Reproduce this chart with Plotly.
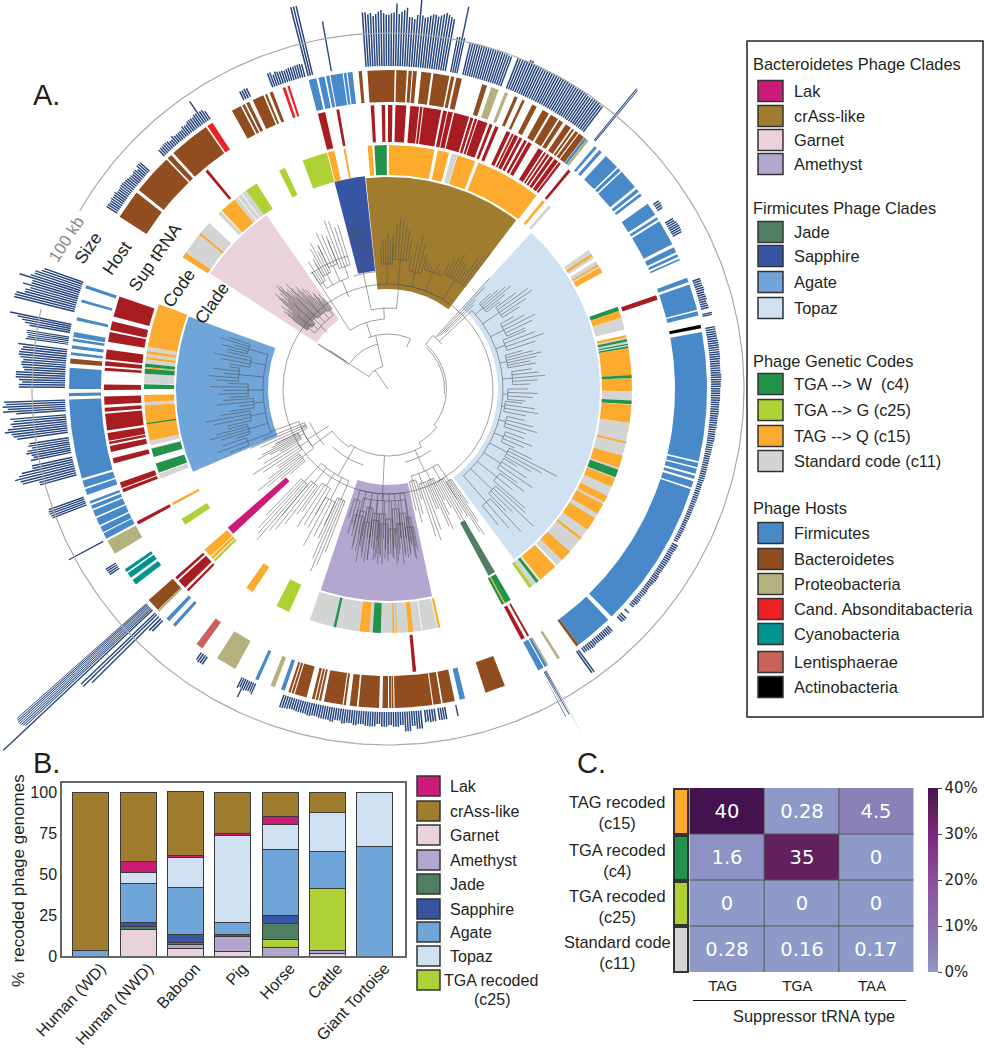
import numpy as np
import plotly.graph_objects as go

# circular panel: spans are in degrees clockwise from north, radii in figure units
cx, cy = 388, 389
size_base, kb_scale = 323, 0.33

clade_names = ["Topaz", "crAss-like", "Sapphire", "Garnet", "Agate", "Lak", "Amethyst", "Jade"]
clade_start = [42.5, -6, -14.5, -57, -113, -133.1, 168, 149.7]
clade_end = [143.5, 37.2, -6.2, -35, -70, -130.9, 198.5, 151.7]
clade_inner = [110, 100, 119, 85, 120, 135, 96, 152]
clade_outer = [212, 212, 214, 212, 212, 212, 212, 212]
clade_colors = ["#d0e2f1", "#a07d2e", "#3855a5", "#ead2dc", "#6fa5d8", "#cb1a78", "#b3a7d0", "#4f7f62"]

code_gray = [[15.2, 16.5], [41.2, 41.9], [55.3, 57.6], [58.4, 60], [71.8, 72.2], [73, 75.9], [77.8, 78.2],
             [78.8, 79.9], [83, 83.3], [85.3, 85.6], [90.5, 92.7], [98, 136.2], [141.6, 143.8], [168.4, 171.9],
             [172.1, 198.7], [248.5, 249.7], [254.2, 256], [256.6, 257.7], [266.1, 266.9], [271.3, 273.6],
             [276, 277], [277.6, 278.3], [279, 280], [304, 312.9], [315.9, 316.8], [321, 321.9], [322.1, 323.1],
             [323.3, 324.5]]
code_orange = [[0.2, 11], [11.8, 14.5], [16.6, 21], [21.8, 37.5], [39.3, 40], [56.4, 57], [59.3, 59.7],
               [60.1, 61.5], [71.3, 73], [77.2, 77.8], [80.3, 86.7], [87.4, 90.5], [93.7, 98], [102.4, 102.9],
               [105.9, 108.8], [111.5, 113.6], [116, 117.6], [118.2, 120.8], [122, 125.2], [127.5, 128.1],
               [131.8, 134.5], [136.7, 141.4], [151.3, 151.6], [167.6, 168.2], [174.1, 175.2], [177.9, 178.1],
               [178.5, 178.9], [184.4, 186.7], [213.7, 215.5], [225.8, 226.5], [226.7, 228.8], [241.6, 242.2],
               [257.7, 266.1], [266.9, 268.6], [274.9, 275.2], [277, 277.6], [278.3, 279], [280, 290.3],
               [302.7, 304], [309.3, 309.8], [317, 321], [345.7, 347.3], [349.5, 350], [355.2, 356.3]]
code_green = [[-3.2, -0.3], [70.3, 71.3], [78.2, 78.8], [79.3, 79.6], [79.9, 80.3], [86.7, 87.4], [92.7, 93.6],
              [109.3, 111.2], [141.9, 142.6], [149.8, 151.3], [151.6, 152.2], [181.7, 183.6], [192.3, 192.9],
              [249.9, 252.2], [253.8, 255.8], [261.7, 262], [270, 271.1], [273.6, 274.8], [275.2, 276]]
code_lime = [[143.8, 144.6], [203.9, 207.2], [225, 225.6], [236.2, 237.8], [324.5, 327.4], [333.5, 335], [339.5, 345.5]]

sup_trna = [[-3.5, -2.8], [-1.3, -0.6], [0, 0.9], [1.5, 3.7], [4.5, 6.3], [6.5, 7], [7.2, 10.8], [11.2, 12],
            [12.2, 13.2], [13.5, 16.6], [16.9, 17.5], [17.8, 18.3], [18.5, 20.5], [21, 21.6], [22.2, 22.9],
            [24.7, 25.5], [25.9, 26.3], [26.5, 27.3], [27.6, 28.2], [28.7, 29.3], [29.6, 30.4], [32, 33.1],
            [33.4, 33.8], [34.1, 34.6], [34.9, 35.6], [35.9, 36.8], [37, 37.5], [39.4, 40], [70.7, 71.7],
            [150.2, 150.6], [151.2, 152], [174.3, 175], [224.6, 225.1], [225.6, 227.5], [227.9, 228.5],
            [241.5, 242.2], [248.7, 249.4], [249.6, 250.8], [254.8, 255.9], [257.2, 258.4], [258.8, 259.3],
            [259.5, 261.1], [261.6, 265], [265.4, 266.2], [266.8, 268.5], [269.8, 270.9], [273.7, 274.3],
            [274.7, 275.6], [276, 278], [279.6, 281.6], [282, 283.8], [284.8, 289], [320, 320.6], [345.7, 347.2],
            [349.5, 350.1]]

host_firmicutes = [[38, 38.5], [40.4, 40.9], [41.5, 42.1], [43.1, 45.9], [46.2, 46.8], [47.1, 50.7], [51.2, 51.8],
                   [52.2, 52.7], [54.5, 56.9], [57.4, 57.9], [58.3, 63], [63.6, 64.6], [65, 65.5], [65.9, 66.2],
                   [69.6, 70.4], [70.9, 75.6], [75.9, 76.7], [79.7, 103.1], [103.4, 104.2], [104.5, 105.4],
                   [105.8, 106.4], [106.8, 108], [108.3, 135.5], [136.3, 143.3], [150.1, 150.6], [150.8, 151.9],
                   [166, 167], [198.9, 199.6], [204, 204.6], [221.8, 222.4], [223.3, 224], [242, 243.1],
                   [243.3, 244.4], [244.7, 246.1], [246.4, 247.6], [247.9, 248.6], [248.9, 249.4], [250.6, 251.7],
                   [252, 253.3], [253.7, 268.1], [268.7, 269.3], [270, 273.8], [276.1, 276.6], [277.3, 277.9],
                   [278.6, 279.1], [279.4, 280.3], [282.4, 283], [285.8, 286.3], [288.4, 289], [345.6, 347],
                   [347.4, 348.5], [348.8, 349.4], [349.6, 351.8], [352, 352.5], [352.7, 353.6]]
host_bacteroidetes = [[-5.3, -4.7], [-3.7, 1.2], [1.5, 3.4], [3.7, 4.3], [4.5, 5.2], [6, 7.8], [8.2, 11.1],
                      [11.4, 12], [12.4, 13.4], [17.2, 18.1], [23.4, 24], [24.9, 25.4], [26.9, 27.8], [29, 30.3],
                      [30.7, 32.2], [32.5, 33.3], [33.9, 35], [35.3, 35.7], [36, 36.6], [36.8, 37.9], [143.3, 143.8],
                      [158.5, 162.2], [167.9, 170.1], [170.4, 171.8], [172, 178.8], [179, 179.3], [179.4, 179.8],
                      [180, 181], [181.6, 183.9], [183.9, 185.3], [185.6, 186.9], [187.6, 188], [188.2, 191.6],
                      [192.1, 192.5], [192.7, 193.1], [193.3, 193.8], [194.8, 197], [197.2, 197.6], [197.8, 198.2],
                      [226.2, 228.6], [274.6, 275.5], [302.7, 308], [308.6, 316], [316.3, 317.2], [317.7, 325.2],
                      [330.7, 332.5], [332.8, 333.3], [333.6, 334.2], [334.9, 337], [337.3, 337.7], [338.2, 338.8]]
host_proteobacteria = [[18.9, 20.3], [21.5, 22.1], [38.5, 39], [147.4, 147.9], [149.8, 150.1], [200.8, 201.6],
                       [208.6, 212.4], [225.8, 226.2], [238.9, 241.6]]
host_absconditabacteria = [[325.5, 326.6], [340.7, 341.2], [341.6, 342]]
host_cyanobacteria = [[232.2, 233.2], [233.7, 234.7], [235, 235.6]]
host_lentisphaerae = [[215.6, 216.9]]
host_actinobacteria = [[78.4, 79]]

# genome size blocks, each list of kb runs clockwise across its span
size_start = [-4.1, 11, 13.2, 21.3, 39.5, 55, 58.9, 70.3, 76.5, 79, 118.3, 132.6, 133.7, 137, 143.7, 150.4,
              167.7, 169.7, 171.6, 174, 204, 213.8, 224, 225.1, 225.6, 226, 226.7, 227, 236.1, 241.6, 248.8,
              254.4, 258.5, 262.1, 266, 270.1, 277.8, 279.9, 283.7, 302.8, 316, 333.3, 338.9, 345.5, 349.7]
size_end = [10.4, 12.5, 20.6, 37.4, 40, 56.7, 62, 75.9, 77.2, 118, 131.8, 133.2, 135, 143.4, 144.5, 151.6,
            168.1, 171.3, 173.7, 199, 207, 215.5, 224.9, 225.3, 225.8, 226.2, 226.9, 228.5, 237.6, 242.1, 250.6,
            258, 261.5, 265.6, 268.2, 277.2, 279.4, 281.7, 289.5, 312.6, 326.8, 335, 345.3, 346.7, 350.1]
size_kb = [
    [165, 158, 162, 152, 158, 165, 170, 160, 155, 160, 162, 190, 158, 165, 170, 178, 150, 145, 158, 225, 158, 152,
     155, 160, 165, 160, 165, 170, 175, 170, 165, 160],
    [108, 110, 205, 110],
    [100, 99, 100, 98, 100, 100, 97, 96],
    [98, 100, 108, 100, 100, 98, 100, 98, 100, 100, 100, 100, 98, 100, 98, 96, 98, 100, 96],
    [203, 200],
    [20, 22, 20, 18],
    [28, 32, 34, 32, 30],
    [25, 24, 26, 23, 25, 22, 24],
    [30, 28],
    [30, 30, 32, 32, 32, 30, 30, 32, 30, 28, 28, 26, 26, 24, 24, 22, 22, 20, 20, 18, 18, 18, 18, 16, 16, 16, 15, 15,
     15, 14, 15, 14, 13],
    [20, 18, 20, 19, 18, 17, 20, 18, 16, 18, 17, 19, 16],
    [18],
    [24, 22],
    [22, 20, 21, 19, 22, 20, 18],
    [82, 80],
    [235, 230, 150, 150, 150, 150],
    [34],
    [37, 38, 36],
    [38, 39, 36, 38],
    [55, 45, 60, 40, 45, 40, 45, 37, 45, 44, 40, 45, 40, 44, 37, 44, 40, 40, 37, 40, 37, 37, 35, 38, 40],
    [35, 30, 30, 32, 35, 60, 30, 35],
    [28, 30, 26],
    [45, 50],
    [285],
    [312],
    [312],
    [620],
    [520, 525, 530, 530, 530, 527, 525],
    [35, 36],
    [118],
    [110, 112, 115, 115, 112],
    [115, 165, 170, 185, 170, 160, 125, 125],
    [125, 115, 120, 135, 130, 115, 125, 120],
    [155, 165, 170, 190, 180, 165, 170, 160, 170],
    [150, 190, 175, 190, 180, 185],
    [140, 130, 140, 150, 150, 125, 130, 135, 130, 140, 145, 140, 135, 150],
    [130, 125, 125, 130, 130],
    [125, 140, 150, 165, 190],
    [188, 185, 161, 148, 173, 148, 191, 158, 148, 130, 124],
    [38, 36, 40, 38, 42, 36, 38, 40, 38, 36, 34, 32, 36, 30, 40, 38],
    [25, 25, 28, 27, 22, 30, 25, 25, 25, 33, 30, 35, 36, 35, 40, 80, 38, 30],
    [28, 30, 28],
    [45, 35, 42, 40, 38, 36, 38, 40, 40, 42, 42, 42, 40],
    [215, 215, 215],
    [153],
]

# phylogeny: arcs (r, from, to), spokes (angle, r from, r to)
tree_arcs = [(23, 301, 347), (46, 304, 347), (55, 339, 384), (81, 348, 366), (70, 327, 357), (58.5, 40, 128),
             (56.5, 43, 95), (62, 128, 150), (67, 150, 214), (70, 214, 233), (95, 233, 250), (70, 40, 50),
             (75, 145, 167), (80, 198, 224), (85, 229, 247), (118, 343, 354), (139, 326, 343)]
tree_spokes = [(325, 0, 23), (303, 23, 46), (347, 23, 46), (347, 46, 55), (342, 55, 70), (357, 70, 81),
               (348, 81, 118), (327, 70, 139), (24, 46, 55), (40, 58.5, 70), (128, 58.5, 62),
               (150, 62, 67), (214, 67, 70), (233, 70, 95), (156, 67, 75), (210, 67, 80), (238, 70, 85),
               (302.5, 46, 83), (303, 46, 83), (303.5, 50, 70), (42.5, 70, 150), (43.5, 72, 140), (44.5, 75, 125),
               (45.5, 80, 120)]
# each group: spine radius, root radius, root angle, fans of (from, to, base radius, tip radii)
tree_groups = [
    (125, 95, 250, [(284, 288, 145, [165, 172, 160, 176, 168]), (279, 283, 140, [160, 170, 178, 165]),
                    (273, 278, 150, [172, 180, 165, 175, 160]), (267, 272, 140, [158, 170, 165, 178, 160]),
                    (262, 266, 135, [160, 150, 172, 165]), (257, 261, 140, [165, 178, 185, 170]),
                    (252, 256, 145, [160, 175, 185, 178, 165]), (248, 251, 150, [170, 182, 175])]),
    (92, 83, 313, [(306, 309, 100, [118, 124, 130, 126, 120, 135, 128, 122, 116]),
                   (309, 312, 98, [128, 136, 142, 148, 140, 132, 138, 145, 128]),
                   (312, 315, 102, [135, 148, 152, 145, 150, 140, 134, 142, 130]),
                   (315, 318, 100, [128, 138, 146, 140, 132, 126, 134, 120]),
                   (318, 322, 100, [138, 130, 124, 132, 122, 128, 118, 112, 120]),
                   (322, 325, 98, [122, 116, 110, 118, 112, 108])]),
    (118, 100, 337, [(327, 330, 125, [140, 150, 138, 145]), (330, 334, 130, [150, 160, 165, 155, 160]),
                     (334, 338, 135, [160, 172, 168, 160]), (338, 343, 130, [165, 180, 178, 170, 172])]),
    (105, 81, 6, [(357, 362, 125, [140, 150, 148, 155, 150, 145]), (362, 369, 130, [155, 165, 172, 170, 165, 160, 150]),
                  (370, 376, 120, [135, 150, 158, 150, 140]), (377, 385, 125, [135, 132, 130, 128, 135, 130, 128]),
                  (386, 397, 128, [140, 145, 150, 155, 150, 148, 145, 160, 165, 170])]),
    (130, 118, 348, [(347, 350, 145, [170, 180, 175, 165]), (350, 353, 140, [160, 170, 158])]),
    (115, 70, 47, [(47, 52, 125, [140, 148, 155, 160, 150, 142]), (53, 58, 135, [160, 172, 175, 165, 155]),
                   (60, 66, 130, [145, 155, 165, 160, 150]), (67, 72, 125, [150, 158, 165, 155]),
                   (74, 80, 122, [140, 150, 158, 152, 145, 150]), (82, 88, 125, [145, 152, 158, 150, 142]),
                   (90, 95, 120, [140, 150, 145, 138]), (96, 101, 118, [135, 148, 152, 140]),
                   (103, 108, 122, [140, 150, 155, 145]), (110, 115, 125, [145, 155, 148, 140]),
                   (116, 120, 135, [160, 190, 175, 165]), (121, 126, 135, [150, 165, 175, 160]),
                   (127, 131, 140, [170, 160, 182]), (132, 136, 145, [185, 200, 175, 170]),
                   (137, 141, 150, [195, 185, 175])]),
    (105, 67, 183, [(170, 172, 130, [160, 170, 155, 165]), (172, 175, 125, [155, 170, 165, 150]),
                    (175, 178, 120, [150, 165, 175, 160]), (178, 181, 130, [170, 165, 155, 170]),
                    (181, 184, 125, [160, 175, 165, 150]), (184, 187, 125, [165, 172, 160, 155]),
                    (187, 190, 120, [155, 175, 170, 160]), (190, 194, 125, [150, 165, 160, 145]),
                    (194, 197, 115, [140, 150, 135])]),
    (112, 105, 183, [(169.5, 173, 140, [165, 172, 158, 168, 150]), (173, 176.5, 135, [150, 168, 176, 160, 145]),
                     (176.5, 180, 140, [172, 158, 168, 150, 165]), (180, 183.5, 135, [172, 160, 150, 168, 175]),
                     (183.5, 187, 132, [158, 170, 162, 148, 172]), (187, 190.5, 135, [172, 150, 165, 176]),
                     (190.5, 195, 130, [158, 148, 164, 152, 140])]),
    (100, 80, 210, [(201, 205, 120, [175, 190, 198, 185, 165]), (205, 210, 125, [150, 165, 178, 160]),
                    (210, 215, 115, [145, 160, 165, 150]), (216, 220, 120, [155, 170, 180, 165]),
                    (220, 224, 125, [185, 200, 195, 190, 175])]),
    (95, 85, 238, [(229, 234, 110, [130, 140, 155, 165, 150, 135]), (235, 239, 105, [135, 150, 160, 145]),
                   (240, 244, 100, [125, 135, 148, 142, 130, 125]), (244, 248, 90, [125, 140, 150, 135])]),
    (90, 75, 156, [(145, 148, 110, [140, 160, 175, 170, 150]), (148, 152, 105, [130, 145, 158, 150, 135]),
                   (153, 157, 100, [125, 140, 155, 150, 130]), (158, 162, 100, [130, 150, 160, 155]),
                   (163, 167, 95, [115, 130, 138, 125])]),
]

# panel B
hosts = ["Human (WD)", "Human (NWD)", "Baboon", "Pig", "Horse", "Cattle", "Giant Tortoise"]
pct_garnet = [0, 16, 4.5, 2.5, 0, 1.5, 0]
pct_amethyst = [0, 0, 2.5, 9.5, 5, 2, 0]
pct_c25 = [0, 0, 0, 0, 5, 37.5, 0]
pct_jade = [0, 2, 1.5, 0, 10, 0, 0]
pct_sapphire = [0, 2.5, 4.5, 1, 5, 0, 0]
pct_agate = [3.5, 23.5, 29, 7.5, 40, 23, 67]
pct_topaz = [0, 7, 18, 53, 15, 23.5, 33]
pct_lak = [0, 6.5, 1.5, 1.5, 5, 0, 0]
pct_crass = [96.5, 42.5, 39, 25, 15, 12.5, 0]

# panel C
suppressor_types = ["TAG", "TGA", "TAA"]
recoded_rows = ["TAG recoded<br>(c15)", "TGA recoded<br>(c4)", "TGA recoded<br>(c25)", "Standard code<br>(c11)"]
suppressor_pct = [[40, 0.28, 4.5], [1.6, 35, 0], [0, 0, 0], [0.28, 0.16, 0.17]]
suppressor_text = [["40", "0.28", "4.5"], ["1.6", "35", "0"], ["0", "0", "0"], ["0.28", "0.16", "0.17"]]

GREEN, LIME, ORANGE, GRAY = "#23924a", "#aed136", "#fdab2e", "#d3d4d4"
BLUE, BROWN, KHAKI, RED = "#4789c9", "#914d20", "#b5b17f", "#ee2224"
TEAL, SALMON, SUP_RED, SIZE_BLUE = "#00938f", "#c9625a", "#a81d21", "#27467c"
SANS = "Liberation Sans"
TEXT = "#231f20"


def to_xy(theta, r):
    a = np.radians(theta)
    return cx + r * np.sin(a), cy - r * np.cos(a)


def sector(t0, t1, r0, r1):
    t = np.linspace(t0, t1, max(2, int(abs(t1 - t0)) + 2))
    x1, y1 = to_xy(t, r1)
    x0, y0 = to_xy(t[::-1], r0)
    return list(x1) + list(x0) + [x1[0], None], list(y1) + list(y0) + [y1[0], None]


def add_sectors(fig, spans, r0, r1, color):
    xs, ys = [], []
    for t0, t1 in spans:
        x, y = sector(t0, t1, r0, r1)
        xs += x
        ys += y
    fig.add_trace(go.Scatter(x=xs, y=ys, mode="lines", fill="toself", fillcolor=color, line=dict(width=0),
                             hoverinfo="skip", showlegend=False))


def arc_xy(r, t0, t1):
    t = np.linspace(t0, t1, max(2, int(abs(t1 - t0)) + 2))
    x, y = to_xy(t, r)
    return list(x) + [None], list(y) + [None]


def spoke_xy(t, r0, r1):
    x, y = to_xy(np.array([t, t]), np.array([r0, r1]))
    return list(x) + [None], list(y) + [None]


def size_bar(t, r0, r1, half):
    # bars keep one width along their length, they do not fan out
    x0, y0 = to_xy(t, r0)
    x1, y1 = to_xy(t, r1)
    a = np.radians(t)
    ox, oy = half * np.cos(a), half * np.sin(a)
    return ([x0 - ox, x1 - ox, x1 + ox, x0 + ox, x0 - ox, None],
            [y0 - oy, y1 - oy, y1 + oy, y0 + oy, y0 - oy, None])


fig = go.Figure()

# clade wedges
for i in range(len(clade_names)):
    add_sectors(fig, [[clade_start[i], clade_end[i]]], clade_inner[i], clade_outer[i], clade_colors[i])

# tree
tx, ty = [], []
for r, t0, t1 in tree_arcs:
    x, y = arc_xy(r, t0, t1)
    tx += x
    ty += y
for t, r0, r1 in tree_spokes:
    x, y = spoke_xy(t, r0, r1)
    tx += x
    ty += y
for spine, root, root_angle, fans in tree_groups:
    mids = [(f[0] + f[1]) / 2 for f in fans]
    x, y = arc_xy(spine, min(mids + [root_angle]), max(mids + [root_angle]))
    tx += x
    ty += y
    x, y = spoke_xy(root_angle, root, spine)
    tx += x
    ty += y
    for (t0, t1, base, tips), mid in zip(fans, mids):
        x, y = spoke_xy(mid, spine, base)
        tx += x
        ty += y
        x, y = arc_xy(base, t0, t1)
        tx += x
        ty += y
        for angle, tip in zip(np.linspace(t0, t1, len(tips)), tips):
            x, y = spoke_xy(angle, base, tip)
            tx += x
            ty += y
fig.add_trace(go.Scatter(x=tx, y=ty, mode="lines", line=dict(color="#505050", width=0.55), hoverinfo="skip",
                         showlegend=False))

# rings
add_sectors(fig, code_gray, 214, 244, GRAY)
add_sectors(fig, code_orange, 214, 244, ORANGE)
add_sectors(fig, code_green, 214, 244, GREEN)
add_sectors(fig, code_lime, 214, 244, LIME)
add_sectors(fig, sup_trna, 247, 284, SUP_RED)
add_sectors(fig, host_firmicutes, 287, 319, BLUE)
add_sectors(fig, host_bacteroidetes, 287, 319, BROWN)
add_sectors(fig, host_proteobacteria, 287, 319, KHAKI)
add_sectors(fig, host_absconditabacteria, 287, 319, RED)
add_sectors(fig, host_cyanobacteria, 287, 319, TEAL)
add_sectors(fig, host_lentisphaerae, 287, 319, SALMON)
add_sectors(fig, host_actinobacteria, 287, 319, "#000000")

# size bars
sx, sy = [], []
for start, end, kb in zip(size_start, size_end, size_kb):
    n = max(len(kb), int(round((end - start) / 0.4)))
    step = (end - start) / n
    half = min(0.8, 0.33 * np.radians(step) * size_base)
    if n == 1:
        half = 0.7
    for i in range(n):
        t = start + (i + 0.5) * step
        x, y = size_bar(t, size_base, size_base + kb[int(i * len(kb) / n)] * kb_scale, half)
        sx += x
        sy += y
fig.add_trace(go.Scatter(x=sx, y=sy, mode="lines", fill="toself", fillcolor=SIZE_BLUE, line=dict(width=0),
                         hoverinfo="skip", showlegend=False))

# 100 kb circle, open behind its label
ct = np.arange(300, 644)
gx, gy = to_xy(ct, size_base + 100 * kb_scale)
fig.add_trace(go.Scatter(x=gx, y=gy, mode="lines", line=dict(color="#a9a9a9", width=1.2), hoverinfo="skip",
                         showlegend=False))

# panel B bars
stack = [("Garnet", pct_garnet, "#ead2dc"), ("Amethyst", pct_amethyst, "#b3a7d0"), ("c25", pct_c25, LIME),
         ("Jade", pct_jade, "#4f7f62"), ("Sapphire", pct_sapphire, "#3855a5"), ("Agate", pct_agate, "#6fa5d8"),
         ("Topaz", pct_topaz, "#d0e2f1"), ("Lak", pct_lak, "#cb1a78"), ("crAss-like", pct_crass, "#a07d2e")]
for name, values, color in stack:
    fig.add_trace(go.Bar(x=hosts, y=values, name=name, marker=dict(color=color, line=dict(color="#3a3a3a", width=1)),
                         width=0.76, xaxis="x2", yaxis="y2", showlegend=False, hoverinfo="skip"))

# panel C heatmap
fig.add_trace(go.Heatmap(
    z=suppressor_pct, x=suppressor_types, y=[0, 1, 2, 3], text=suppressor_text, texttemplate="%{text}",
    textfont=dict(family="DejaVu Sans", size=19.5, color="white"), xaxis="x3", yaxis="y3", zmin=0, zmax=40,
    colorscale=[[0, "#8e9bc9"], [0.11, "#8b80b8"], [0.5, "#8d4fa0"], [0.75, "#7f2583"], [0.875, "#63205f"],
                [1, "#44124e"]],
    hoverinfo="skip",
    colorbar=dict(x=928 / 984, xanchor="left", thickness=10, thicknessmode="pixels", len=184 / 1050,
                  lenmode="fraction", y=1 - 880 / 1050, yanchor="middle", ypad=0, xpad=0, outlinewidth=0,
                  tick0=0, dtick=10, ticksuffix="%", ticks="outside", ticklen=4, tickcolor="#444",
                  tickfont=dict(family="DejaVu Sans", size=15, color=TEXT))))

shapes, notes = [], []


def note(x, y, text, size=16.4, color=TEXT, anchor="left", angle=0, family=SANS):
    notes.append(dict(x=x, y=y, xref="x", yref="y", text=text, showarrow=False, xanchor=anchor, yanchor="middle",
                      textangle=angle, align="center", font=dict(family=family, size=size, color=color)))


def swatch(x0, x1, y0, y1, color, edge="#333333", width=1.5):
    shapes.append(dict(type="rect", xref="x", yref="y", x0=x0, x1=x1, y0=y0, y1=y1, fillcolor=color,
                       line=dict(color=edge, width=width)))


# ring labels
note(66, 239, "100 kb", 16.7, "#8a8a8a", "center", -57)
note(88, 248, "Size", 17.5, TEXT, "center", -55)
note(117, 258, "Host", 17.5, TEXT, "center", -55)
note(155, 257, "Sup tRNA", 17.5, TEXT, "center", -55)
note(179, 288, "Code", 17.5, TEXT, "center", -55)
note(212, 303, "Clade", 17.5, TEXT, "center", -55)
note(31, 95, "A.", 29)
note(31, 763, "B.", 29)
note(575, 763, "C.", 29)
note(18, 881, "%  recoded phage genomes", 17, TEXT, "center", -90)

# side legend
shapes.append(dict(type="rect", xref="x", yref="y", x0=747, x1=983, y0=41, y1=717, line=dict(color="#222", width=1.5)))
legend_heads = [("Bacteroidetes Phage Clades", 64), ("Firmicutes Phage Clades", 208), ("Phage Genetic Codes", 361),
                ("Phage Hosts", 508)]
legend_rows = [("Lak", "#cb1a78", 91), ("crAss-like", "#a07d2e", 116), ("Garnet", "#ead2dc", 140),
               ("Amethyst", "#b3a7d0", 164), ("Jade", "#4f7f62", 232), ("Sapphire", "#3855a5", 256),
               ("Agate", "#6fa5d8", 282), ("Topaz", "#d0e2f1", 308), ("TGA --> W  (c4)", GREEN, 384),
               ("TGA --> G (c25)", LIME, 410), ("TAG --> Q (c15)", ORANGE, 436), ("Standard code (c11)", GRAY, 461),
               ("Firmicutes", BLUE, 533), ("Bacteroidetes", BROWN, 559), ("Proteobacteria", KHAKI, 584),
               ("Cand. Absonditabacteria", RED, 609), ("Cyanobacteria", TEAL, 634), ("Lentisphaerae", SALMON, 662),
               ("Actinobacteria", "#000000", 687)]
for text, y in legend_heads:
    note(751, y, text)
for text, color, y in legend_rows:
    swatch(758, 783, y - 10.5, y + 10.5, color)
    note(792, y, text)

# panel B legend
b_rows = [("Lak", "#cb1a78", 786), ("crAss-like", "#a07d2e", 811), ("Garnet", "#ead2dc", 835),
          ("Amethyst", "#b3a7d0", 860), ("Jade", "#4f7f62", 884), ("Sapphire", "#3855a5", 909),
          ("Agate", "#6fa5d8", 932), ("Topaz", "#d0e2f1", 956)]
for text, color, y in b_rows:
    swatch(417, 440, y - 10, y + 10, color)
    note(448, y, text, 16)
swatch(417, 440, 970, 990, LIME)
note(442, 980, "TGA recoded", 16)
note(492, 999, "(c25)", 16, TEXT, "center")

# panel C row strip, row labels and cell grid
strip_colors = [ORANGE, GREEN, LIME, GRAY]
strip_y = [(789, 834), (836, 880), (882, 925), (927, 972)]
label_y = [812.5, 860.5, 906.5, 952]
for row, color, (y0, y1), ly in zip(recoded_rows, strip_colors, strip_y, label_y):
    swatch(674, 688, y0, y1, color, "#333333", 2)
    note(617, ly, row, 16.4, TEXT, "center")
for v in [0.5, 1.5]:
    shapes.append(dict(type="line", xref="x3", yref="y3", x0=v, x1=v, y0=-0.5, y1=3.5, line=dict(color="#555", width=1)))
for v in [0.5, 1.5, 2.5]:
    shapes.append(dict(type="line", xref="x3", yref="y3", x0=-0.5, x1=2.5, y0=v, y1=v, line=dict(color="#555", width=1)))
shapes.append(dict(type="line", xref="x", yref="y", x0=693, x1=906, y0=1000.5, y1=1000.5, line=dict(color="#111", width=1.2)))
note(814, 1016, "Suppressor tRNA type", 16.4, TEXT, "center")

fig.update_layout(
    width=984, height=1050, margin=dict(l=0, r=0, t=0, b=0, pad=0, autoexpand=False), autosize=False,
    paper_bgcolor="white", plot_bgcolor="rgba(0,0,0,0)", barmode="stack", bargap=0.24, shapes=shapes, annotations=notes,
    xaxis=dict(domain=[0, 1], range=[0, 984], visible=False, fixedrange=True),
    yaxis=dict(domain=[0, 1], range=[1050, 0], visible=False, fixedrange=True),
    xaxis2=dict(domain=[62 / 984, 405 / 984], anchor="y2", range=[-0.61, 6.64], tickangle=-47, showline=True,
                mirror=True, linecolor="#666", linewidth=1.5, ticks="", showgrid=False, zeroline=False,
                ticklabelshift=10, ticklabelstandoff=-5, tickfont=dict(family=SANS, size=16, color=TEXT)),
    yaxis2=dict(domain=[1 - 956 / 1050, 1 - 783 / 1050], anchor="x2", range=[0, 105.5], tickvals=[0, 25, 50, 75, 100],
                showline=True, mirror=True, linecolor="#666", linewidth=1.5, ticks="", showgrid=False, zeroline=False,
                tickfont=dict(family=SANS, size=16, color=TEXT)),
    xaxis3=dict(domain=[689 / 984, 914 / 984], anchor="y3", ticks="", showgrid=False, zeroline=False,
                ticklabelshift=-4, ticklabelstandoff=3, tickfont=dict(family="DejaVu Sans", size=14.5, color=TEXT)),
    yaxis3=dict(domain=[1 - 972 / 1050, 1 - 788 / 1050], anchor="x3", range=[3.5, -0.5], visible=False),
)

fig.write_html("out.html", config=dict(displayModeBar=False), post_script="document.body.style.margin='0';")
